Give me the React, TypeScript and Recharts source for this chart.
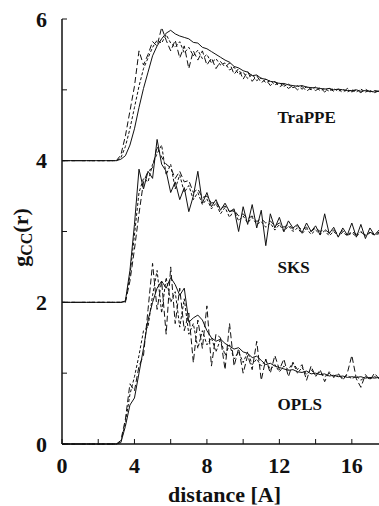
import { LineChart, Line, XAxis, YAxis, ReferenceDot } from 'recharts'

// distance in Angstrom, shared by every curve
const distance = [
  0, 3.0, 3.25, 3.5, 3.75, 4.0, 4.25, 4.5, 4.75, 5.0, 5.25, 5.5, 5.75, 6.0, 6.25, 6.5, 6.75, 7.0, 7.25, 7.5,
  7.75, 8.0, 8.25, 8.5, 8.75, 9.0, 9.25, 9.5, 9.75, 10.0, 10.25, 10.5, 10.75, 11.0, 11.25, 11.5, 11.75, 12.0, 12.25, 12.5,
  12.75, 13.0, 13.25, 13.5, 13.75, 14.0, 14.25, 14.5, 14.75, 15.0, 15.25, 15.5, 15.75, 16.0, 16.25, 16.5, 16.75, 17.0, 17.25, 17.5,
]

// TraPPE (shifted by +4)
const trappeSolid = [
  4.0, 4.0, 4.02, 4.07, 4.22, 4.45, 4.75, 5.02, 5.25, 5.48, 5.62, 5.72, 5.8, 5.84, 5.79, 5.76, 5.74, 5.72, 5.67, 5.66,
  5.6, 5.58, 5.54, 5.5, 5.46, 5.42, 5.39, 5.33, 5.31, 5.27, 5.25, 5.2, 5.21, 5.16, 5.15, 5.12, 5.11, 5.09, 5.09, 5.07,
  5.06, 5.05, 5.06, 5.04, 5.03, 5.03, 5.02, 5.01, 5.02, 5.0, 5.01, 5.0, 4.99, 4.99, 5.0, 4.98, 4.99, 4.98, 4.97, 4.98,
]
const trappeDash = [
  4.0, 4.0, 4.08, 4.35, 4.7, 5.05, 5.55, 5.35, 5.5, 5.68, 5.62, 5.88, 5.7, 5.55, 5.7, 5.45, 5.62, 5.3, 5.55, 5.42,
  5.55, 5.35, 5.45, 5.3, 5.4, 5.32, 5.38, 5.22, 5.3, 5.15, 5.26, 5.12, 5.2, 5.1, 5.15, 5.06, 5.12, 5.04, 5.08, 5.02,
  5.06, 5.0, 5.05, 4.98, 5.03, 4.99, 5.03, 4.97, 5.02, 4.98, 5.01, 4.96, 5.02, 4.97, 5.0, 4.96, 5.01, 4.97, 4.99, 4.98,
]
const trappeShort = [
  4.0, 4.0, 4.04, 4.2, 4.45, 4.75, 5.05, 5.3, 5.45, 5.6, 5.7, 5.66, 5.78, 5.66, 5.6, 5.68, 5.52, 5.6, 5.48, 5.56,
  5.44, 5.5, 5.38, 5.44, 5.35, 5.38, 5.28, 5.32, 5.22, 5.25, 5.16, 5.22, 5.13, 5.17, 5.1, 5.13, 5.07, 5.1, 5.05, 5.08,
  5.03, 5.06, 5.01, 5.04, 5.0, 5.04, 4.99, 5.02, 4.98, 5.02, 4.98, 5.01, 4.97, 5.0, 4.97, 5.01, 4.97, 4.99, 4.96, 4.99,
]

// SKS (shifted by +2)
const sksSolid = [
  2.0, 2.0, 2.0, 2.02, 2.45, 3.1, 3.88, 3.6, 3.85, 3.75, 4.3, 3.95, 3.85, 3.55, 3.7, 3.45, 3.62, 3.28, 3.5, 3.85,
  3.4, 3.55, 3.35, 3.45, 3.3, 3.4, 3.28, 3.32, 3.0, 3.35, 3.1, 3.38, 3.05, 3.3, 2.8, 3.25, 3.05, 3.2, 3.0, 3.15,
  3.05, 3.1, 2.98, 3.12, 3.0, 3.08, 2.95, 3.25, 2.97, 3.06, 2.92, 3.05, 2.95, 3.12, 2.92, 3.1, 2.9, 3.05, 2.95, 3.02,
]
const sksDash = [
  2.0, 2.0, 2.0, 2.0, 2.3, 2.75, 3.25, 3.7, 3.85, 3.9, 4.2, 4.05, 3.95, 3.9, 3.75, 3.85, 3.7, 3.72, 3.55, 3.6,
  3.48, 3.5, 3.4, 3.42, 3.32, 3.36, 3.28, 3.3, 3.22, 3.25, 3.18, 3.22, 3.14, 3.18, 3.12, 3.15, 3.08, 3.12, 3.06, 3.1,
  3.03, 3.08, 3.02, 3.06, 3.0, 3.05, 3.0, 3.03, 2.98, 3.02, 2.96, 3.01, 2.95, 3.0, 2.96, 2.99, 2.95, 2.99, 2.96, 2.99,
]
const sksShort = [
  2.0, 2.0, 2.0, 2.01, 2.38, 2.95, 3.55, 3.75, 3.7, 3.95, 4.1, 4.22, 3.8, 3.95, 3.6, 3.8, 3.55, 3.65, 3.45, 3.55,
  3.38, 3.46, 3.32, 3.4, 3.25, 3.34, 3.2, 3.3, 3.15, 3.22, 3.12, 3.2, 3.1, 3.14, 3.06, 3.12, 3.02, 3.1, 3.0, 3.08,
  3.0, 3.05, 2.97, 3.04, 2.96, 3.02, 2.96, 3.01, 2.94, 3.0, 2.93, 2.99, 2.94, 2.98, 2.93, 3.0, 2.94, 2.98, 2.95, 2.97,
]

// OPLS (no shift)
const oplsSolid = [
  0, 0, 0.02, 0.25, 0.55, 0.65, 1.0, 1.35, 1.75, 2.0, 2.2, 2.3, 2.2, 2.35, 2.25, 2.1, 2.2, 1.72, 1.78, 1.82,
  1.75, 1.6, 1.5, 1.45, 1.48, 1.42, 1.38, 1.34, 1.36, 1.3, 1.28, 1.22, 1.24, 1.18, 1.12, 1.14, 1.1, 1.08, 1.06, 1.04,
  1.05, 1.02, 1.01, 1.03, 0.99, 1.0, 0.98, 0.99, 0.96, 0.97, 0.95, 0.96, 0.94, 0.95, 0.94, 0.95, 0.93, 0.94, 0.93, 0.94,
]
const oplsDash = [
  0, 0, 0.05, 0.35, 0.85, 0.75, 1.1, 1.25, 1.9, 2.55, 1.9, 2.3, 1.55, 2.5, 1.7, 2.2, 1.6, 1.85, 1.15, 1.75,
  1.35, 1.95, 1.1, 1.55, 1.5, 1.05, 1.7, 1.1, 1.35, 1.0, 1.25, 1.05, 1.45, 0.9, 1.2, 1.0, 1.25, 1.05, 1.2, 0.95,
  1.15, 1.05, 1.12, 0.9, 1.1, 0.95, 1.05, 0.88, 1.02, 0.95, 1.0, 0.9, 1.0, 1.25, 0.92, 0.8, 0.98, 0.9, 1.0, 0.92,
]
const oplsShort = [
  0, 0, 0.03, 0.3, 0.7, 0.95, 1.25, 1.6, 1.65, 2.1, 2.45, 1.85, 2.35, 2.0, 2.15, 1.65, 2.05, 1.55, 1.7, 1.35,
  1.6, 1.4, 1.5, 1.3, 1.48, 1.25, 1.4, 1.2, 1.3, 1.15, 1.3, 1.12, 1.2, 1.1, 1.18, 1.05, 1.12, 1.02, 1.1, 1.05,
  1.15, 1.0, 1.08, 0.98, 1.05, 0.97, 1.02, 0.95, 1.0, 0.94, 0.98, 0.93, 0.97, 0.92, 0.96, 0.9, 0.95, 0.92, 0.95, 0.93,
]

const xTicks = [0, 2, 4, 6, 8, 10, 12, 14, 16]
const yTicks = [0, 1, 2, 3, 4, 5, 6]

const data = distance.map((x, i) => ({
  x,
  trappeSolid: trappeSolid[i],
  trappeDash: trappeDash[i],
  trappeShort: trappeShort[i],
  sksSolid: sksSolid[i],
  sksDash: sksDash[i],
  sksShort: sksShort[i],
  oplsSolid: oplsSolid[i],
  oplsDash: oplsDash[i],
  oplsShort: oplsShort[i],
}))

const FONT = '"Liberation Serif", "Times New Roman", serif'
const INK = '#111'

const tickStyle = { fontFamily: FONT, fontSize: 22, fontWeight: 700, fill: INK }
const groupLabel = { fontFamily: FONT, fontSize: 17, fontWeight: 700, fill: INK }

// rotated g_CC(r) with a real subscript
const YLabel = ({ viewBox }: any) => {
  const cx = 27.5
  const cy = viewBox.y + viewBox.height / 2 + 6
  return (
    <text
      x={cx}
      y={cy}
      transform={`rotate(-90, ${cx}, ${cy})`}
      textAnchor="middle"
      fontFamily={FONT}
      fontWeight={700}
      fontSize={22}
      fill={INK}
    >
      g
      <tspan dy={4.5} fontSize={16}>CC</tspan>
      <tspan dy={-4.5}>(r)</tspan>
    </text>
  )
}

const series = [
  { key: 'trappeSolid', dash: undefined },
  { key: 'trappeDash', dash: '6 3' },
  { key: 'trappeShort', dash: '3 2' },
  { key: 'sksSolid', dash: undefined },
  { key: 'sksDash', dash: '6 3' },
  { key: 'sksShort', dash: '3 2' },
  { key: 'oplsSolid', dash: undefined },
  { key: 'oplsDash', dash: '6 3' },
  { key: 'oplsShort', dash: '3 2' },
]

export default function App() {
  return (
    <div style={{ position: 'absolute', left: 0, top: 0, background: '#fff' }}>
      <LineChart width={379} height={506} data={data} margin={{ top: 19, right: 0, bottom: 0, left: 0 }}>
        <XAxis
          xAxisId="bottom"
          type="number"
          dataKey="x"
          domain={[0, 17.5]}
          ticks={xTicks}
          tickFormatter={(v: number) => (v % 4 === 0 ? String(v) : '')}
          tick={tickStyle}
          tickSize={-5}
          tickMargin={18}
          tickLine={{ stroke: INK }}
          axisLine={{ stroke: INK, strokeWidth: 1.5 }}
          height={62}
          allowDataOverflow
          label={{ value: 'distance [A]', position: 'insideBottom', offset: 4, dx: 4, ...tickStyle }}
        />
        <XAxis
          xAxisId="top"
          orientation="top"
          type="number"
          dataKey="x"
          domain={[0, 17.5]}
          ticks={xTicks}
          tick={false}
          tickSize={-5}
          tickLine={{ stroke: INK }}
          axisLine={{ stroke: INK, strokeWidth: 1.5 }}
          height={0}
          allowDataOverflow
        />
        <YAxis
          type="number"
          domain={[0, 6]}
          ticks={yTicks}
          tickFormatter={(v: number) => (v % 2 === 0 ? String(v) : '')}
          tick={tickStyle}
          tickSize={-5}
          tickMargin={20}
          tickLine={{ stroke: INK }}
          axisLine={{ stroke: INK, strokeWidth: 1.5 }}
          width={62}
          label={<YLabel />}
        />
        {series.map((s) => (
          <Line
            key={s.key}
            xAxisId="bottom"
            type="linear"
            dataKey={s.key}
            stroke={INK}
            strokeWidth={1}
            strokeDasharray={s.dash}
            dot={false}
            isAnimationActive={false}
          />
        ))}
        <ReferenceDot xAxisId="bottom" x={11.9} y={4.62} r={0} fill="none" stroke="none"
          label={{ value: 'TraPPE', position: 'right', offset: 0, ...groupLabel }} />
        <ReferenceDot xAxisId="bottom" x={11.9} y={2.5} r={0} fill="none" stroke="none"
          label={{ value: 'SKS', position: 'right', offset: 0, ...groupLabel }} />
        <ReferenceDot xAxisId="bottom" x={11.9} y={0.57} r={0} fill="none" stroke="none"
          label={{ value: 'OPLS', position: 'right', offset: 0, ...groupLabel }} />
      </LineChart>
    </div>
  )
}
